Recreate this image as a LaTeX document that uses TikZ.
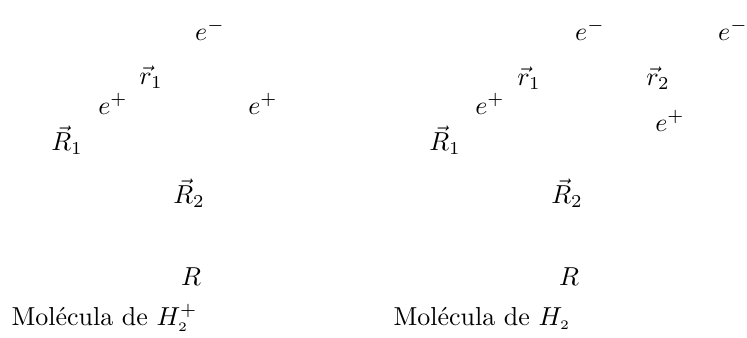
\documentclass[tikz,border=0pt]{standalone}
\begin{document}
\begin{tikzpicture}[x=0.385pt,y=-0.385pt,lbl/.style={inner sep=0pt},captxt/.style={inner sep=0pt,anchor=west}]
\useasboundingbox (0,0) rectangle (747,338);
% left molecule
\node[lbl] (le) at (210,30) {$e^{-}$};
\node[lbl] (lr1) at (151,77) {$\vec{r}_1$};
\node[lbl] (lp1) at (113,104) {$e^{+}$};
\node[lbl] (lp2) at (263,104) {$e^{+}$};
\node[lbl] (lR1) at (67,140) {$\vec{R}_1$};
\node[lbl] (lR2) at (189,193) {$\vec{R}_2$};
\node[lbl] (lR) at (191,277) {$R$};
\node[captxt] (lcap) at (11,318) {Molécula de $H_{\scriptscriptstyle 2}^{+}$};
% right molecule
\node[lbl] (re1) at (590,30) {$e^{-}$};
\node[lbl] (re2) at (733,30) {$e^{-}$};
\node[lbl] (rr1) at (529,78) {$\vec{r}_1$};
\node[lbl] (rr2) at (658,78) {$\vec{r}_2$};
\node[lbl] (rp1) at (490,104) {$e^{+}$};
\node[lbl] (rp2) at (670,121) {$e^{+}$};
\node[lbl] (rR1) at (445,140) {$\vec{R}_1$};
\node[lbl] (rR2) at (567,193) {$\vec{R}_2$};
\node[lbl] (rR) at (569,277) {$R$};
\node[captxt] (rcap) at (393,318) {Molécula de $H_{\scriptscriptstyle 2}$};
\end{tikzpicture}
\end{document}
